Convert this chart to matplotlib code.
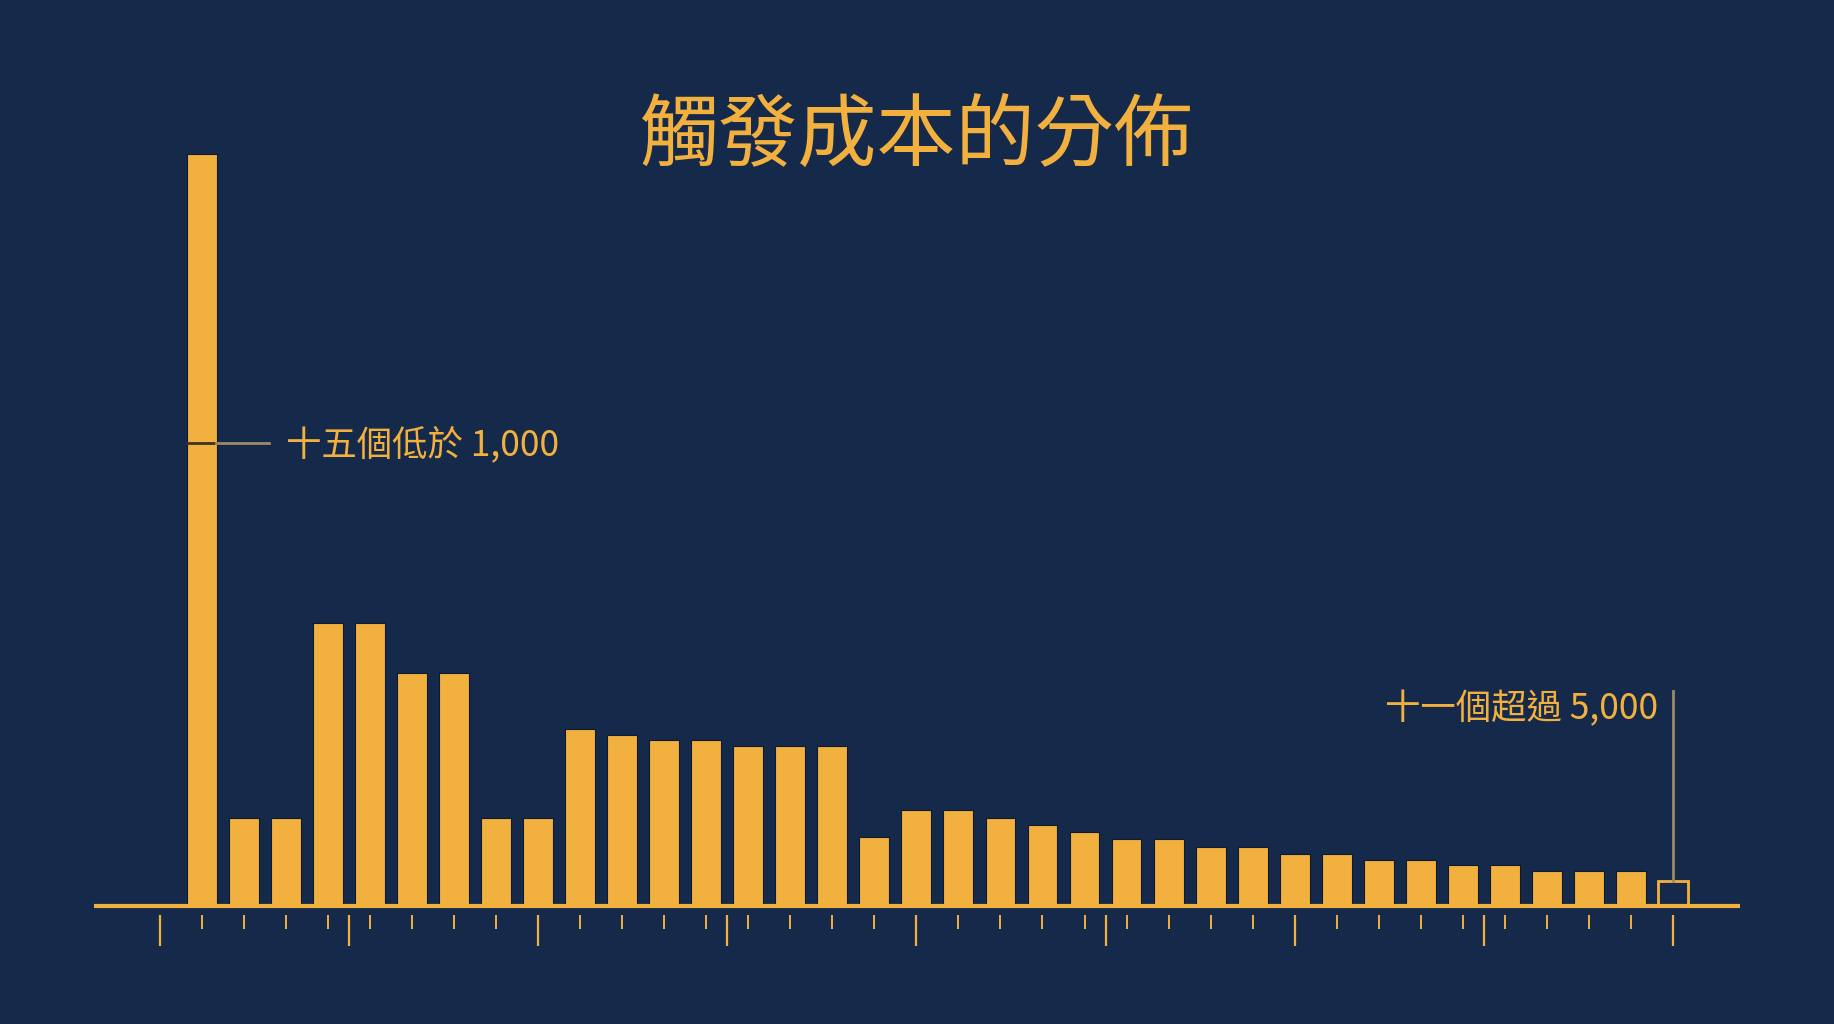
import matplotlib
matplotlib.use("Agg")
import matplotlib.pyplot as plt
import numpy as np

plt.rcParams["font.family"] = ["Noto Sans CJK TC", "DejaVu Sans"]

BG = "#152a4a"
GOLD = "#f2b03f"
TAN = "#9c8a66"

# bin counts, last bin is the empty "over 5,000" box
counts = [64.3, 7.5, 7.5, 24.2, 24.2, 19.9, 19.9, 7.5, 7.5, 15.1, 14.6, 14.2,
          14.2, 13.7, 13.7, 13.7, 5.9, 8.2, 8.2, 7.5, 6.9, 6.3, 5.7, 5.7,
          5.0, 5.0, 4.4, 4.4, 3.9, 3.9, 3.5, 3.5, 3.0, 3.0, 3.0]
over_count = 2.1
low_mark = 39.6            # height of the "十五個低於 1,000" mark on first bar
title = "觸發成本的分佈"
low_label = "十五個低於 1,000"
high_label = "十一個超過 5,000"

n = len(counts) + 1
x = np.arange(len(counts))
x_over = len(counts)

fig = plt.figure(figsize=(18.34, 10.24), dpi=100, facecolor=BG)
ax = fig.add_axes([0, 0, 1, 1], facecolor=BG)
ax.set_xlim(-4.80, 38.83)
ax.set_ylim(-10.1, 77.46)
ax.set_axis_off()

# bars
ax.bar(x, counts, width=0.71, color=GOLD, edgecolor="#0d1a30", linewidth=0.8, zorder=3)
ax.bar([x_over], [over_count], width=0.70, facecolor=BG, edgecolor=GOLD,
       linewidth=2.0, zorder=3)

# baseline
ax.plot([-2.57, 36.6], [0, 0], color=GOLD, lw=3.0, solid_capstyle="butt", zorder=4)

# ticks: short at every bin centre (plus one before), long every 4.5 bins
short = np.arange(-1, n)
long_ = -1 + 4.5 * np.arange(9)
ax.vlines(short, -0.8, -2.0, color=GOLD, lw=1.4, zorder=2)
ax.vlines(long_, -0.8, -3.4, color=GOLD, lw=1.6, zorder=2)

# low annotation
ax.plot([-0.35, 0.35], [low_mark, low_mark], color="#3a3222", lw=2.0, zorder=5)
ax.plot([0.35, 1.6], [low_mark, low_mark], color=TAN, lw=2.0, zorder=5)
ax.text(2.0, low_mark - 0.15, low_label, color=GOLD, fontsize=25.5,
        va="center", ha="left", zorder=5)

# high annotation
ax.plot([x_over, x_over], [over_count, 18.4], color=TAN, lw=2.0, zorder=5)
ax.text(34.65, 16.85, high_label, color=GOLD, fontsize=25.5,
        va="center", ha="right", zorder=5)

fig.text(0.4994, 0.866, title, color=GOLD, fontsize=57, ha="center", va="center")

fig.savefig("out.png", dpi=100, facecolor=BG)
